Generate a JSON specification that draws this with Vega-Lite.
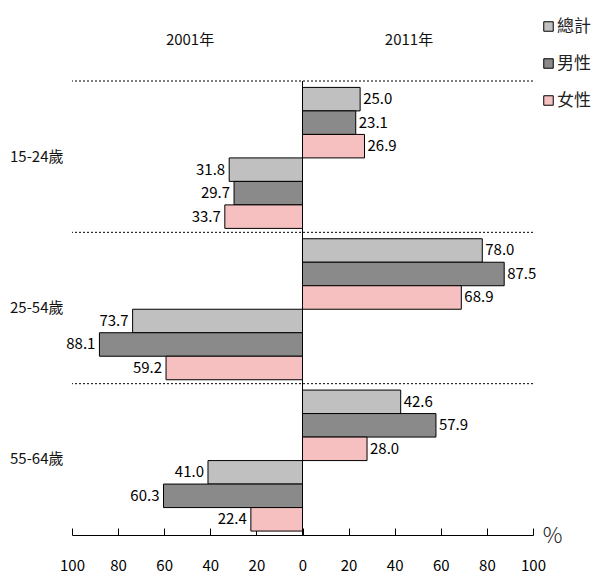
{
  "$schema": "https://vega.github.io/schema/vega-lite/v6.json",
  "width": 461,
  "height": 454,
  "autosize": {"type": "none"},
  "padding": {"left": 72, "top": 81, "right": 59, "bottom": 39},
  "background": "white",
  "config": {"view": {"stroke": null}},
  "data": {
    "values": [
      {"age": "15-24歲", "year": "2011", "sex": "總計", "series": "2011總計", "value": 25.0},
      {"age": "15-24歲", "year": "2011", "sex": "男性", "series": "2011男性", "value": 23.1},
      {"age": "15-24歲", "year": "2011", "sex": "女性", "series": "2011女性", "value": 26.9},
      {"age": "15-24歲", "year": "2001", "sex": "總計", "series": "2001總計", "value": -31.8},
      {"age": "15-24歲", "year": "2001", "sex": "男性", "series": "2001男性", "value": -29.7},
      {"age": "15-24歲", "year": "2001", "sex": "女性", "series": "2001女性", "value": -33.7},
      {"age": "25-54歲", "year": "2011", "sex": "總計", "series": "2011總計", "value": 78.0},
      {"age": "25-54歲", "year": "2011", "sex": "男性", "series": "2011男性", "value": 87.5},
      {"age": "25-54歲", "year": "2011", "sex": "女性", "series": "2011女性", "value": 68.9},
      {"age": "25-54歲", "year": "2001", "sex": "總計", "series": "2001總計", "value": -73.7},
      {"age": "25-54歲", "year": "2001", "sex": "男性", "series": "2001男性", "value": -88.1},
      {"age": "25-54歲", "year": "2001", "sex": "女性", "series": "2001女性", "value": -59.2},
      {"age": "55-64歲", "year": "2011", "sex": "總計", "series": "2011總計", "value": 42.6},
      {"age": "55-64歲", "year": "2011", "sex": "男性", "series": "2011男性", "value": 57.9},
      {"age": "55-64歲", "year": "2011", "sex": "女性", "series": "2011女性", "value": 28.0},
      {"age": "55-64歲", "year": "2001", "sex": "總計", "series": "2001總計", "value": -41.0},
      {"age": "55-64歲", "year": "2001", "sex": "男性", "series": "2001男性", "value": -60.3},
      {"age": "55-64歲", "year": "2001", "sex": "女性", "series": "2001女性", "value": -22.4}
    ]
  },
  "layer": [
    {
      "mark": {"type": "bar", "stroke": "black", "strokeWidth": 1},
      "encoding": {
        "y": {
          "field": "age", "type": "nominal",
          "sort": ["15-24歲", "25-54歲", "55-64歲"],
          "scale": {"paddingInner": 0, "paddingOuter": 0},
          "axis": {"title": null, "domain": false, "ticks": false, "labelPadding": 9, "labelFontSize": 15, "labelFont": "Noto Sans CJK TC", "labelColor": "#111"}
        },
        "yOffset": {
          "field": "series", "type": "nominal",
          "sort": ["2011總計", "2011男性", "2011女性", "2001總計", "2001男性", "2001女性"],
          "scale": {"paddingInner": 0, "paddingOuter": 0.22, "align": 0.62}
        },
        "x": {
          "field": "value", "type": "quantitative",
          "scale": {"domain": [-100, 100], "nice": false},
          "axis": {
            "orient": "bottom",
            "values": [-100, -80, -60, -40, -20, 0, 20, 40, 60, 80, 100],
            "labelExpr": "abs(datum.value)",
            "grid": false,
            "domainColor": "black",
            "tickColor": "black",
            "tickSize": -7,
            "labelFontSize": 15,
            "labelFont": "Noto Sans CJK TC",
            "labelColor": "black",
            "labelPadding": 30,
            "labelFlush": false,
            "labelOverlap": false,
            "title": "%",
            "titleX": 480,
            "titleY": 0,
            "titleAngle": 0,
            "titleAlign": "center",
            "titleBaseline": "middle",
            "titleFontSize": 22,
            "titleFontWeight": 300,
            "titleFont": "Noto Sans CJK TC",
            "titleColor": "#222"
          }
        },
        "fill": {
          "field": "sex", "type": "nominal",
          "scale": {"domain": ["總計", "男性", "女性"], "range": ["#c0c0c0", "#8a8a8a", "#f7c0c0"]},
          "legend": {
            "orient": "none", "legendX": 468, "legendY": -63,
            "title": null, "symbolType": "square", "symbolSize": 90,
            "symbolStrokeColor": "black", "symbolStrokeWidth": 1,
            "labelFontSize": 17, "labelFont": "Noto Sans CJK TC", "labelColor": "#222",
            "rowPadding": 19, "labelOffset": 0
          }
        }
      }
    },
    {
      "transform": [{"filter": "datum.series == '2011總計'"}],
      "mark": {"type": "rule", "strokeDash": [2, 2], "color": "black", "strokeWidth": 1},
      "encoding": {
        "y": {"field": "age", "type": "nominal", "sort": ["15-24歲", "25-54歲", "55-64歲"], "bandPosition": 0}
      }
    },
    {
      "transform": [{"filter": "datum.series == '2011總計'"}],
      "mark": {"type": "rule", "color": "black", "strokeWidth": 1},
      "encoding": {
        "x": {
          "datum": 0, "type": "quantitative",
          "axis": {
            "orient": "top", "values": [-49, 46],
            "labelExpr": "datum.value < 0 ? '2001年' : '2011年'",
            "domain": false, "ticks": false, "tickSize": 0, "grid": false,
            "labelPadding": 34, "labelFontSize": 15,
            "labelFont": "Noto Sans CJK TC",
            "labelColor": "#111", "title": null
          }
        }
      }
    },
    {
      "transform": [{"filter": "datum.year == '2011'"}],
      "mark": {"type": "text", "align": "left", "baseline": "middle", "dx": 3, "fontSize": 15, "font": "Noto Sans CJK TC", "color": "black"},
      "encoding": {
        "y": {"field": "age", "type": "nominal", "sort": ["15-24歲", "25-54歲", "55-64歲"]},
        "yOffset": {"field": "series", "type": "nominal", "sort": ["2011總計", "2011男性", "2011女性", "2001總計", "2001男性", "2001女性"]},
        "x": {"field": "value", "type": "quantitative", "axis": null},
        "text": {"field": "value", "format": ".1f"}
      }
    },
    {
      "transform": [{"filter": "datum.year == '2001'"}],
      "mark": {"type": "text", "align": "right", "baseline": "middle", "dx": -4, "fontSize": 15, "font": "Noto Sans CJK TC", "color": "black", "text": {"expr": "format(abs(datum.value), '.1f')"}},
      "encoding": {
        "y": {"field": "age", "type": "nominal", "sort": ["15-24歲", "25-54歲", "55-64歲"]},
        "yOffset": {"field": "series", "type": "nominal", "sort": ["2011總計", "2011男性", "2011女性", "2001總計", "2001男性", "2001女性"]},
        "x": {"field": "value", "type": "quantitative", "axis": null}
      }
    }
  ],
  "resolve": {"axis": {"x": "independent"}}
}
